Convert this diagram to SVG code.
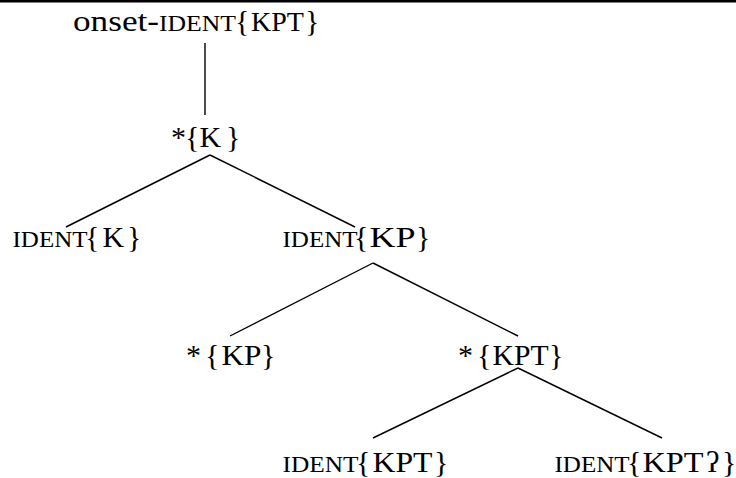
<svg xmlns="http://www.w3.org/2000/svg" width="736" height="478" viewBox="0 0 736 478">
<style>
  text { font-family: "Liberation Serif", "Times New Roman", serif; fill: #000; }
  .b { font-size: 30px; }
  .sc { font-size: 24px; }
  .k { font-size: 30px; }
  .edge { stroke: #000; stroke-width: 1.4; fill: none; }
</style>
<rect x="0" y="0" width="736" height="2.5" fill="#000"/>
<g id="connectors">
  <line class="edge" x1="205" y1="43" x2="205" y2="115"/>
  <line class="edge" x1="210" y1="155" x2="66" y2="227"/>
  <line class="edge" x1="210" y1="155" x2="355" y2="227"/>
  <line class="edge" x1="373" y1="263" x2="230" y2="336"/>
  <line class="edge" x1="373" y1="263" x2="518" y2="336"/>
  <line class="edge" x1="518" y1="368" x2="373" y2="438"/>
  <line class="edge" x1="518" y1="368" x2="662" y2="438"/>
</g>
<g id="root">
  <text class="b" x="73" y="31" textLength="86" lengthAdjust="spacingAndGlyphs">onset-</text>
  <text class="sc" x="159" y="31" textLength="77" lengthAdjust="spacingAndGlyphs">IDENT</text>
  <text class="k" x="235" y="31">{</text>
  <text class="k" x="251" y="31" style="font-size:28px">KPT</text>
  <text class="k" x="305" y="31">}</text>
</g>
<g id="star-K">
  <text class="b" x="171" y="147">*</text>
  <text class="k" x="185" y="147">{</text>
  <text class="k" x="199.5" y="147">K</text>
  <text class="k" x="226" y="147">}</text>
</g>
<g id="ident-K">
  <text class="sc" x="12.5" y="247" textLength="75" lengthAdjust="spacingAndGlyphs">IDENT</text>
  <text class="k" x="85" y="247">{</text>
  <text class="k" x="102.5" y="247">K</text>
  <text class="k" x="127" y="247">}</text>
</g>
<g id="ident-KP">
  <text class="sc" x="282.5" y="247" textLength="75" lengthAdjust="spacingAndGlyphs">IDENT</text>
  <text class="k" x="354" y="247">{</text>
  <text class="k" x="369.5" y="247" textLength="46" lengthAdjust="spacingAndGlyphs">KP</text>
  <text class="k" x="416" y="247">}</text>
</g>
<g id="star-KP">
  <text class="b" x="186" y="365">*</text>
  <text class="k" x="205" y="365">{</text>
  <text class="k" x="221.5" y="365" textLength="40" lengthAdjust="spacingAndGlyphs">KP</text>
  <text class="k" x="261" y="365">}</text>
</g>
<g id="star-KPT">
  <text class="b" x="458" y="365">*</text>
  <text class="k" x="477" y="365">{</text>
  <text class="k" x="492.5" y="365" textLength="56" lengthAdjust="spacingAndGlyphs">KPT</text>
  <text class="k" x="549" y="365">}</text>
</g>
<g id="ident-KPT">
  <text class="sc" x="282.5" y="472" textLength="76" lengthAdjust="spacingAndGlyphs">IDENT</text>
  <text class="k" x="356" y="472">{</text>
  <text class="k" x="372.5" y="472" textLength="60" lengthAdjust="spacingAndGlyphs">KPT</text>
  <text class="k" x="434" y="472">}</text>
</g>
<g id="ident-KPT-glottal">
  <text class="sc" x="554.5" y="472" textLength="75" lengthAdjust="spacingAndGlyphs">IDENT</text>
  <text class="k" x="627" y="472">{</text>
  <text class="k" x="642.5" y="472" textLength="61" lengthAdjust="spacingAndGlyphs">KPT</text>
  <text class="k" x="706" y="472">ʔ</text>
  <text class="k" x="722" y="472">}</text>
</g>
</svg>
